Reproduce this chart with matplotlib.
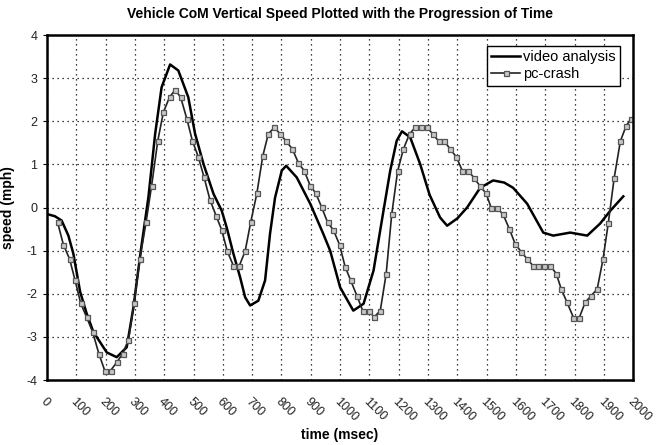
import matplotlib
matplotlib.use("Agg")
import numpy as np
from matplotlib import pyplot as plt

plt.rcParams["font.family"] = ["Liberation Sans", "DejaVu Sans"]

# video analysis curve (time in msec, speed in mph)
video_time = [0, 27, 50, 73, 90, 113, 135, 158, 204, 238, 272, 295, 320, 346,
              369, 391, 420, 448, 482, 505, 534, 568, 596, 613, 636, 659, 676,
              693, 721, 744, 761, 778, 801, 816, 852, 898, 942, 966, 1000,
              1045, 1080, 1114, 1148, 1171, 1193, 1211, 1239, 1273, 1305,
              1341, 1365, 1400, 1433, 1478, 1522, 1560, 1590, 1638, 1693,
              1727, 1785, 1843, 1887, 1922, 1966]
video_speed = [-0.15, -0.20, -0.30, -0.65, -1.07, -1.95, -2.45, -2.88, -3.36,
               -3.47, -3.24, -2.31, -1.00, 0.24, 1.71, 2.79, 3.32, 3.18, 2.56,
               1.72, 1.01, 0.32, -0.07, -0.46, -1.07, -1.62, -2.08, -2.27,
               -2.16, -1.69, -0.60, 0.23, 0.86, 0.97, 0.70, 0.09, -0.60,
               -1.00, -1.85, -2.39, -2.23, -1.46, -0.07, 0.86, 1.55, 1.77,
               1.63, 1.01, 0.30, -0.23, -0.42, -0.25, 0.00, 0.46, 0.63, 0.58,
               0.46, 0.09, -0.58, -0.65, -0.58, -0.65, -0.37, -0.07, 0.26]

# pc-crash simulation
pc_time = [36, 56, 77, 96, 115, 135, 156, 177, 197, 217, 238, 258, 278, 297,
           317, 338, 357, 378, 397, 418, 437, 456, 477, 496, 516, 536, 556,
           577, 596, 615, 636, 656, 676, 695, 716, 736, 755, 776, 795, 816,
           837, 858, 877, 898, 917, 937, 957, 977, 998, 1017, 1036, 1057,
           1077, 1097, 1116, 1137, 1157, 1176, 1196, 1216, 1237, 1256, 1276,
           1296, 1316, 1336, 1356, 1375, 1397, 1417, 1437, 1457, 1478, 1498,
           1515, 1535, 1556, 1577, 1597, 1617, 1638, 1658, 1676, 1696, 1717,
           1737, 1754, 1774, 1796, 1816, 1836, 1857, 1877, 1897, 1915, 1935,
           1956, 1976, 1993]
pc_speed = [-0.34, -0.86, -1.19, -1.69, -2.22, -2.54, -2.89, -3.39, -3.78,
            -3.78, -3.59, -3.39, -3.07, -2.22, -1.19, -0.34, 0.51, 1.55, 2.21,
            2.56, 2.73, 2.56, 2.06, 1.55, 1.18, 0.70, 0.18, -0.19, -0.52,
            -1.01, -1.35, -1.35, -1.01, -0.34, 0.33, 1.19, 1.71, 1.86, 1.71,
            1.54, 1.36, 1.03, 0.86, 0.51, 0.33, 0.01, -0.34, -0.52, -0.86,
            -1.37, -1.69, -2.04, -2.39, -2.39, -2.54, -2.39, -1.54, -0.16,
            0.84, 1.36, 1.71, 1.86, 1.86, 1.86, 1.71, 1.54, 1.54, 1.36, 1.17,
            0.85, 0.85, 0.69, 0.49, 0.33, 0.00, 0.00, -0.16, -0.49, -0.84,
            -1.02, -1.19, -1.35, -1.35, -1.35, -1.35, -1.53, -1.88, -2.20,
            -2.55, -2.55, -2.20, -2.04, -1.89, -1.19, -0.35, 0.69, 1.54, 1.90,
            2.06]

x_ticks = np.arange(0, 2001, 100)
y_ticks = np.arange(-4, 5, 1)

fig = plt.figure(figsize=(6.58, 4.45), dpi=100)
ax = fig.add_axes([0.0714, 0.146, 0.891, 0.775])

ax.plot(video_time, video_speed, color="black", lw=1.8,
        solid_joinstyle="round", label="video analysis")
ax.plot(pc_time, pc_speed, color="#222222", lw=1.2, marker="s", ms=3.6,
        mfc="#c8c8c8", mec="#555555", mew=0.9, solid_joinstyle="round",
        label="pc-crash")

ax.set_xlim(0, 2000)
ax.set_ylim(-4, 4)
ax.set_xticks(x_ticks)
ax.set_yticks(y_ticks)
ax.set_xticklabels([str(t) for t in x_ticks], rotation=-45, ha="left",
                   rotation_mode="anchor", fontsize=9, color="#222222")
ax.set_yticklabels([str(v) for v in y_ticks], fontsize=9, color="#222222")
ax.tick_params(axis="x", length=0, pad=11)
ax.tick_params(axis="y", length=3, width=0.8, pad=4)

ax.grid(True, color="black", linestyle=(0, (1, 3)), linewidth=0.9)
for s in ax.spines.values():
    s.set_linewidth(1.8)

ax.set_title("Vehicle CoM Vertical Speed Plotted with the Progression of Time",
             fontsize=10, fontweight="bold", pad=12)
ax.set_xlabel("time (msec)", fontsize=10, fontweight="bold", labelpad=3)
ax.set_ylabel("speed (mph)", fontsize=10, fontweight="bold", labelpad=8)

leg = ax.legend(loc="upper right", fontsize=10.5, fancybox=False,
                framealpha=1, edgecolor="black", handlelength=2.0,
                handletextpad=0.2, borderpad=0.3, labelspacing=0.2,
                bbox_to_anchor=(0.99, 0.99))
leg.get_frame().set_linewidth(1.0)

fig.savefig("out.png", dpi=100)
